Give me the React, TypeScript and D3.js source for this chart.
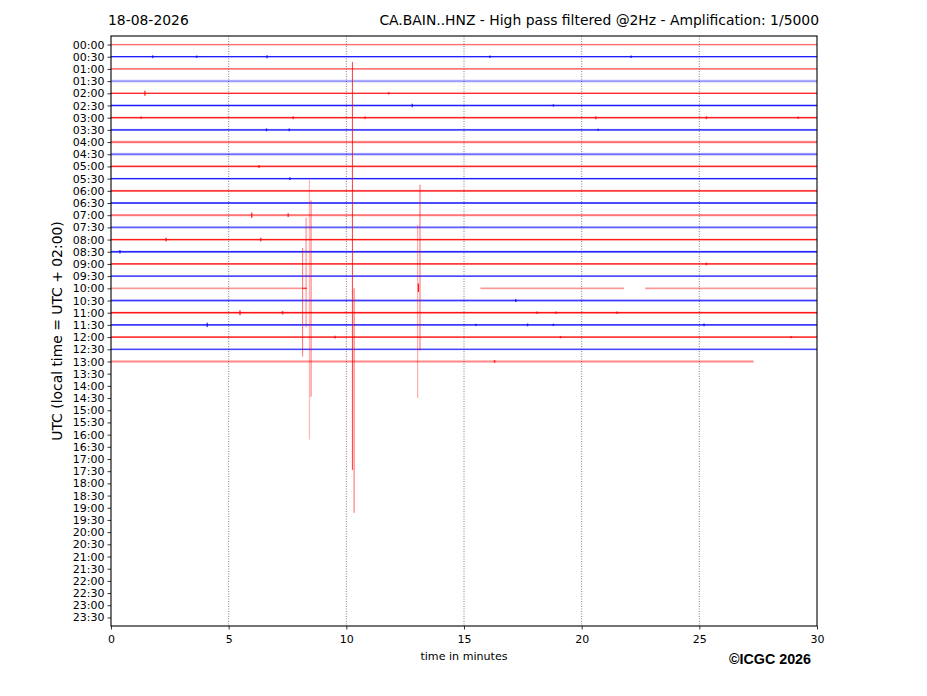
import { useEffect, useRef } from 'react';
import * as d3 from 'd3';

// half-hour labels on the y axis
const rowLabels = [
  '00:00', '00:30', '01:00', '01:30', '02:00', '02:30', '03:00', '03:30',
  '04:00', '04:30', '05:00', '05:30', '06:00', '06:30', '07:00', '07:30',
  '08:00', '08:30', '09:00', '09:30', '10:00', '10:30', '11:00', '11:30',
  '12:00', '12:30', '13:00', '13:30', '14:00', '14:30', '15:00', '15:30',
  '16:00', '16:30', '17:00', '17:30', '18:00', '18:30', '19:00', '19:30',
  '20:00', '20:30', '21:00', '21:30', '22:00', '22:30', '23:00', '23:30',
];
const minuteTicks = [0, 5, 10, 15, 20, 25, 30];
const gridMinutes = [5, 10, 15, 20, 25];

// one entry per recorded trace (00:00 .. 13:00)
const traceOpacity = [
  0.45, 0.8, 0.5, 0.35, 0.75, 0.8, 0.8, 0.75, 0.55, 0.45, 0.75, 0.8, 0.8, 0.75,
  0.5, 0.5, 0.8, 0.75, 0.85, 0.7, 0.3, 0.65, 0.85, 0.85, 0.85, 0.6, 0.35,
];
// noise half amplitude, in rows
const traceNoise = [
  0.06, 0.05, 0.07, 0.12, 0.06, 0.05, 0.07, 0.08, 0.11, 0.12, 0.08, 0.06, 0.08, 0.07,
  0.1, 0.11, 0.07, 0.08, 0.06, 0.07, 0.1, 0.08, 0.08, 0.06, 0.06, 0.08, 0.12,
];
// recorded spans (minutes); rows not listed run 0..30
const traceSpans: [number, [number, number][]][] = [
  [20, [[0, 8.3], [15.7, 21.8], [22.7, 30]]],
  [26, [[0, 27.3]]],
];

// short noise bursts: [row, minute, half height in rows]
const bursts: [number, number, number][] = [
  [1, 1.77, 0.12], [1, 3.64, 0.1], [1, 6.63, 0.12], [1, 16.1, 0.1], [1, 22.1, 0.1],
  [4, 1.44, 0.2], [4, 11.8, 0.1], [5, 12.8, 0.15], [5, 18.8, 0.1],
  [6, 1.28, 0.1], [6, 7.74, 0.12], [6, 10.8, 0.1], [6, 20.6, 0.12], [6, 25.3, 0.12], [6, 29.2, 0.1],
  [7, 6.61, 0.12], [7, 7.57, 0.12], [7, 20.7, 0.1],
  [10, 6.29, 0.12], [11, 7.6, 0.12],
  [14, 5.98, 0.22], [14, 7.53, 0.15], [16, 2.34, 0.15], [16, 6.36, 0.15], [17, 0.38, 0.15],
  [18, 25.3, 0.12], [21, 17.2, 0.12],
  [22, 5.48, 0.2], [22, 7.29, 0.15], [22, 18.1, 0.1], [22, 18.9, 0.1], [22, 21.5, 0.1],
  [23, 4.09, 0.18], [23, 15.5, 0.1], [23, 17.7, 0.12], [23, 18.8, 0.1], [23, 25.2, 0.12],
  [24, 9.52, 0.12], [24, 19.1, 0.1], [24, 28.9, 0.1], [26, 16.3, 0.12],
];

// large clipped arrivals: [minute, from row, to row, opacity]
const arrivals: [number, number, number, number][] = [
  [8.14, 16.7, 25.6, 0.5],
  [8.29, 14.2, 23.2, 0.45],
  [8.43, 11.1, 32.4, 0.3],
  [8.5, 12.8, 28.9, 0.55],
  [10.26, 1.44, 34.9, 0.7],
  [10.33, 20.0, 38.4, 0.55],
  [13.13, 11.5, 25.1, 0.55],
  [13.03, 14.8, 29.0, 0.35],
  [13.06, 19.6, 20.3, 1],
];
// horizontal link at the first arrival on the 10:00 trace: [row, from, to]
const links: [number, number, number][] = [[20, 8.14, 8.33]];

export default function App() {
  const svgRef = useRef<SVGSVGElement>(null);

  useEffect(() => {
    if (!svgRef.current) return;
    document.body.style.margin = '0';
    const svg = d3.select(svgRef.current);
    svg.selectAll('*').remove();

    const width = 927;
    const height = 696;
    const left = 111, right = 817, top = 36, bottom = 626;
    const font = 'DejaVu Sans, sans-serif';

    svg.attr('width', width).attr('height', height).style('display', 'block');

    const x = d3.scaleLinear().domain([0, 30]).range([left, right]);
    const y = d3.scaleLinear().domain([-0.7, 47.7]).range([top, bottom]);
    const colorOf = (i: number) => (i % 2 === 0 ? '#ff0000' : '#0000ff');

    svg.append('rect').attr('width', width).attr('height', height).attr('fill', '#fff');

    // dotted vertical grid
    svg.append('g')
      .selectAll('line')
      .data(gridMinutes)
      .join('line')
      .attr('x1', d => x(d)).attr('x2', d => x(d))
      .attr('y1', top).attr('y2', bottom)
      .attr('stroke', '#000')
      .attr('stroke-width', 0.7)
      .attr('stroke-dasharray', '1,1.5')
      .attr('opacity', 0.7);

    // traces
    const traces = svg.append('g');
    traceOpacity.forEach((op, i) => {
      const spans = traceSpans.find(s => s[0] === i)?.[1] ?? [[0, 30]];
      const col = colorOf(i);
      const n = traceNoise[i];
      spans.forEach(([a, b]) => {
        traces.append('rect')
          .attr('x', x(a)).attr('width', x(b) - x(a))
          .attr('y', y(i - n)).attr('height', y(i + n) - y(i - n))
          .attr('fill', col).attr('opacity', op * 0.5);
        traces.append('line')
          .attr('x1', x(a)).attr('x2', x(b))
          .attr('y1', y(i)).attr('y2', y(i))
          .attr('stroke', col).attr('stroke-width', 1.3).attr('opacity', op);
      });
    });

    traces.append('g')
      .selectAll('line')
      .data(bursts)
      .join('line')
      .attr('x1', d => x(d[1])).attr('x2', d => x(d[1]))
      .attr('y1', d => y(d[0] - d[2])).attr('y2', d => y(d[0] + d[2]))
      .attr('stroke', d => colorOf(d[0]))
      .attr('stroke-width', 1.5)
      .attr('opacity', 0.7);

    traces.append('g')
      .selectAll('line')
      .data(links)
      .join('line')
      .attr('x1', d => x(d[1])).attr('x2', d => x(d[2]))
      .attr('y1', d => y(d[0])).attr('y2', d => y(d[0]))
      .attr('stroke', '#ff0000').attr('stroke-width', 1.2).attr('opacity', 0.6);

    traces.append('g')
      .selectAll('line')
      .data(arrivals)
      .join('line')
      .attr('x1', d => x(d[0])).attr('x2', d => x(d[0]))
      .attr('y1', d => y(d[1])).attr('y2', d => y(d[2]))
      .attr('stroke', '#ff0000')
      .attr('stroke-width', 1.1)
      .attr('opacity', d => d[3]);

    // axes
    const yAxis = svg.append('g')
      .attr('transform', `translate(${left},0)`)
      .call(d3.axisLeft(y).tickValues(d3.range(rowLabels.length)).tickFormat((_, i) => rowLabels[i]).tickSize(3.5).tickPadding(3));
    yAxis.select('.domain').remove();
    yAxis.selectAll('text').attr('font-family', font).attr('font-size', 11).attr('fill', '#000');
    yAxis.selectAll('line').attr('stroke-width', 0.8);

    const xAxis = svg.append('g')
      .attr('transform', `translate(0,${bottom})`)
      .call(d3.axisBottom(x).tickValues(minuteTicks).tickFormat(d3.format('d')).tickSize(3.5).tickPadding(6));
    xAxis.select('.domain').remove();
    xAxis.selectAll('text').attr('font-family', font).attr('font-size', 11).attr('fill', '#000');
    xAxis.selectAll('line').attr('stroke-width', 0.8);

    // frame
    svg.append('rect')
      .attr('x', left).attr('y', top)
      .attr('width', right - left).attr('height', bottom - top)
      .attr('fill', 'none').attr('stroke', '#000').attr('stroke-width', 1.1);

    // titles
    svg.append('text')
      .attr('x', 108).attr('y', 25)
      .attr('font-family', font).attr('font-size', 13.9)
      .text('18-08-2026');
    svg.append('text')
      .attr('x', 819).attr('y', 25)
      .attr('text-anchor', 'end')
      .attr('font-family', font).attr('font-size', 13.9)
      .text('CA.BAIN..HNZ - High pass filtered @2Hz - Amplification: 1/5000');

    svg.append('text')
      .attr('transform', `translate(62,${(top + bottom) / 2}) rotate(-90)`)
      .attr('text-anchor', 'middle')
      .attr('font-family', font).attr('font-size', 13.9)
      .text('UTC (local time = UTC + 02:00)');

    svg.append('text')
      .attr('x', 464).attr('y', 660)
      .attr('text-anchor', 'middle')
      .attr('font-family', font).attr('font-size', 11.1)
      .text('time in minutes');

    svg.append('text')
      .attr('x', 811).attr('y', 664)
      .attr('text-anchor', 'end')
      .attr('font-family', 'Liberation Sans, Arial, sans-serif')
      .attr('font-weight', 'bold').attr('font-size', 14.3)
      .text('©ICGC 2026');
  }, []);

  return <svg ref={svgRef}></svg>;
}
